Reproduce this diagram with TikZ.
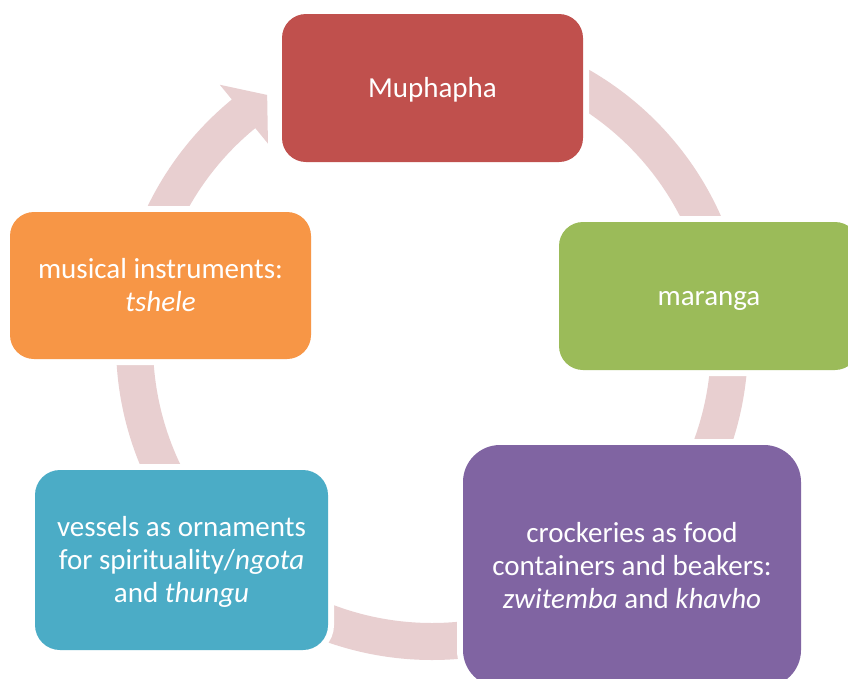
\documentclass[tikz,border=0pt]{standalone}
\usepackage{fontspec}
\setmainfont{Carlito}
\usetikzlibrary{calc}
\definecolor{ringc}{RGB}{232,207,208}
\definecolor{cred}{HTML}{C0504D}
\definecolor{cgreen}{HTML}{9BBB59}
\definecolor{cpurple}{HTML}{8064A2}
\definecolor{cteal}{HTML}{4BACC6}
\definecolor{corange}{HTML}{F79646}
\tikzset{
  stagebox/.style={rectangle, inner sep=0pt, align=center, text=white,
    font=\fontsize{29}{33}\selectfont, text depth=1pt,
    preaction={draw=white, line width=12pt}},
  oneline/.style={text height=20pt},
  twolines/.style={text height=53pt},
  threelines/.style={text height=86pt},
  ringseg/.style={fill=ringc, draw=none}
}
\begin{document}
\begin{tikzpicture}[x=1pt,y=-1pt]
\useasboundingbox (0,0) rectangle (848,678);
\clip (0,0) rectangle (848,678);
\fill[white] (0,0) rectangle (848,678);
\coordinate (c) at (432,344);
% ring segments
\fill[ringseg] (c) ++(80:316pt) arc[start angle=80, end angle=15, radius=316pt]
  -- ++(15:-37pt) arc[start angle=15, end angle=80, radius=279pt] -- cycle;
\fill[ringseg] (c) ++(0:316pt) arc[start angle=0, end angle=-35, radius=316pt]
  -- ++(-35:-37pt) arc[start angle=-35, end angle=0, radius=279pt] -- cycle;
\fill[ringseg] (c) ++(-60:316pt) arc[start angle=-60, end angle=-120, radius=316pt]
  -- ++(-120:-37pt) arc[start angle=-120, end angle=-60, radius=279pt] -- cycle;
\fill[ringseg] (c) ++(-150:316pt) arc[start angle=-150, end angle=-195, radius=316pt]
  -- ++(-195:-37pt) arc[start angle=-195, end angle=-150, radius=279pt] -- cycle;
\fill[ringseg] (c) ++(180:316pt) arc[start angle=180, end angle=129.3, radius=316pt]
  -- ($(c)+(129.3:335pt)$) -- ($(c)+(123.5:298.7pt)$) -- ($(c)+(129.3:259pt)$)
  -- ($(c)+(129.3:279pt)$) arc[start angle=129.3, end angle=180, radius=279pt] -- cycle;
% boxes
\node[stagebox, oneline, fill=cred, minimum width=301pt, minimum height=148pt, rounded corners=24pt]
  (mup) at (432.5,88) {Muphapha};
\node[stagebox, oneline, fill=cgreen, minimum width=300pt, minimum height=148pt, rounded corners=24pt]
  (mar) at (709,296) {maranga};
\node[stagebox, threelines, fill=cpurple, minimum width=338pt, minimum height=242pt, rounded corners=37pt]
  (cro) at (632,566) {crockeries as food\\containers and beakers:\\\textit{zwitemba} and \textit{khavho}};
\node[stagebox, threelines, fill=cteal, minimum width=293pt, minimum height=180pt, rounded corners=25pt]
  (ves) at (181.5,560) {vessels as ornaments\\for spirituality/\textit{ngota}\\and \textit{thungu}};
\node[stagebox, twolines, fill=corange, minimum width=301pt, minimum height=147pt, rounded corners=24pt]
  (mus) at (160.5,285.5) {musical instruments:\\\textit{tshele}};
\end{tikzpicture}
\end{document}
